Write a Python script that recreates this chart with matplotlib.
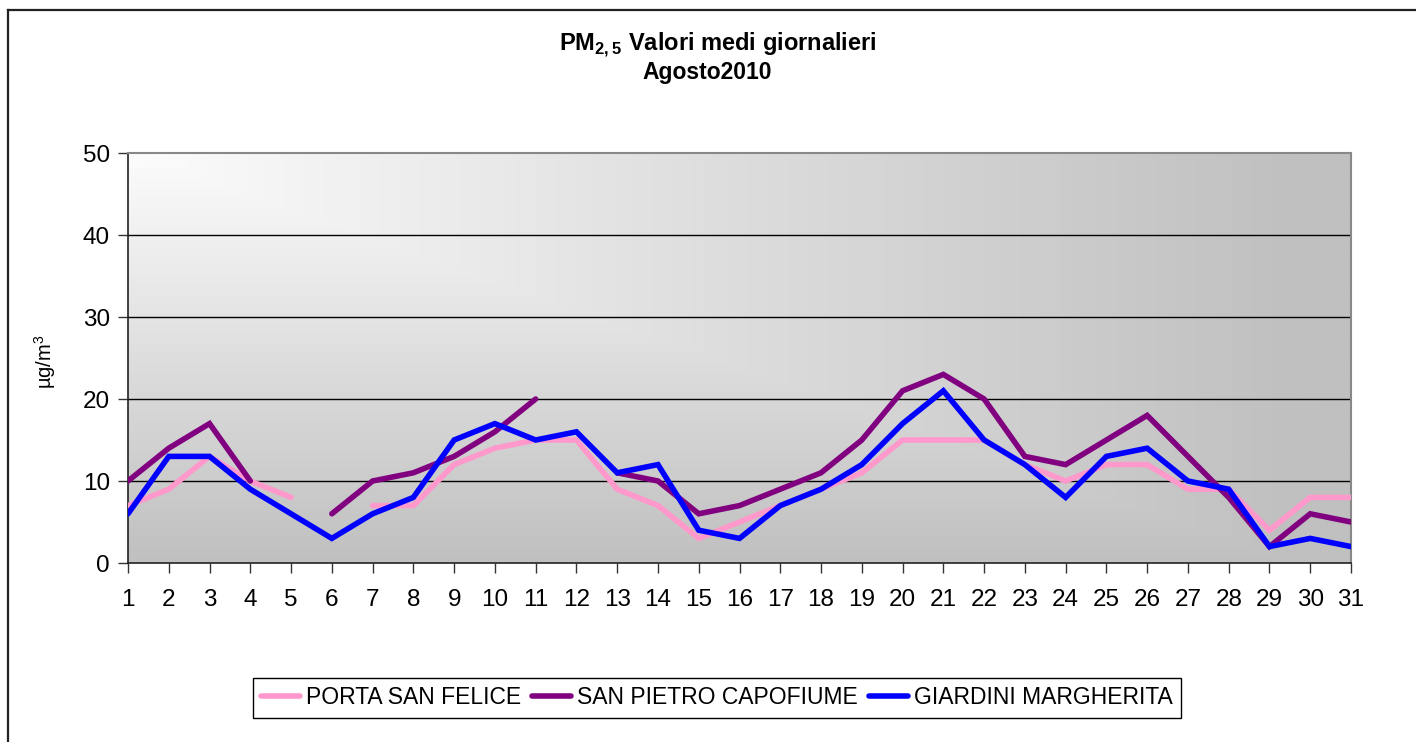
import numpy as np
import matplotlib
matplotlib.use("Agg")
import matplotlib.pyplot as plt
from matplotlib.lines import Line2D

plt.rcParams['font.family'] = ['Liberation Sans', 'DejaVu Sans']
plt.rcParams['mathtext.fontset'] = 'custom'
plt.rcParams['mathtext.rm'] = 'Liberation Sans'
plt.rcParams['mathtext.bf'] = 'Liberation Sans:bold'

nan = np.nan
days = list(range(1, 32))
series_names = ["PORTA SAN FELICE", "SAN PIETRO CAPOFIUME", "GIARDINI MARGHERITA"]
porta_san_felice = [7, 9, 13, 10, 8, nan, 7, 7, 12, 14, 15, 15, 9, 7, 3, 5, 7, 9, 11, 15,
                    15, 15, 12, 10, 12, 12, 9, 9, 4, 8, 8]
san_pietro = [10, 14, 17, 10, nan, 6, 10, 11, 13, 16, 20, nan, 11, 10, 6, 7, 9, 11, 15, 21,
              23, 20, 13, 12, 15, 18, 13, 8, 2, 6, 5]
giardini = [6, 13, 13, 9, 6, 3, 6, 8, 15, 17, 15, 16, 11, 12, 4, 3, 7, 9, 12, 17,
            21, 15, 12, 8, 13, 14, 10, 9, 2, 3, 2]
colors = ["#ff99cc", "#800080", "#0000ff"]
y_ticks = [0, 10, 20, 30, 40, 50]

W, H = 1416, 742
fig = plt.figure(figsize=(W / 100, H / 100), dpi=100)
fig.patch.set_facecolor('white')

# figure border (left and top visible)
fig.add_artist(Line2D([7.5 / W, 7.5 / W], [0, 1 - 9.5 / H], transform=fig.transFigure,
                      color='#222222', lw=1.6))
fig.add_artist(Line2D([7.5 / W, 1], [1 - 9.5 / H, 1 - 9.5 / H], transform=fig.transFigure,
                      color='#222222', lw=1.6))

left, right, top, bottom = 128, 1351, 153, 563
ax = fig.add_axes([left / W, 1 - bottom / H, (right - left) / W, (bottom - top) / H])

# gradient background
nx, ny = 400, 200
u = np.linspace(0, 1, nx)[None, :]
v = np.linspace(0, 1, ny)[:, None]
t = np.clip(np.maximum(u * 1.05, v * 1.0), 0, 1)
val = (252 - t * (252 - 192)) / 255.0
img = np.dstack([val, val, val])
ax.imshow(img, extent=[0, 1, 0, 1], transform=ax.transAxes, aspect='auto',
          zorder=0, interpolation='bilinear')

for y in y_ticks[1:-1]:
    ax.axhline(y, color='black', lw=1.0, zorder=1)

for vals, c, name in zip([porta_san_felice, san_pietro, giardini], colors, series_names):
    ax.plot(days, vals, color=c, lw=4.0, label=name, zorder=3,
            solid_capstyle='round', solid_joinstyle='miter')

ax.set_xlim(1, 31)
ax.set_ylim(0, 50)
ax.set_xticks(days)
ax.set_yticks(y_ticks)
ax.tick_params(axis='both', direction='out', length=7, width=1, color='#333333',
               labelsize=17.5, pad=6)
ax.tick_params(axis='x', pad=12)
for s in ['left', 'bottom']:
    ax.spines[s].set_color('#222222')
    ax.spines[s].set_linewidth(1.2)
for s in ['top', 'right']:
    ax.spines[s].set_color('#888888')
    ax.spines[s].set_linewidth(1.5)

fig.text(45 / W, 1 - 362 / H, "µg/m$^3$", rotation=90, ha='center', va='center', fontsize=14.5)

fig.text(718 / W, 1 - 45 / H, r"PM$_{\mathbf{2,5}}$ Valori medi giornalieri", ha='center',
         va='center', fontsize=17, fontweight='bold')
fig.text(707 / W, 1 - 72 / H, "Agosto2010", ha='center', va='center', fontsize=16.5,
         fontweight='bold')

leg = fig.legend(loc='center', bbox_to_anchor=(717 / W, 1 - 698 / H), ncol=3,
                 fancybox=False, edgecolor='black', framealpha=1, fontsize=16.5,
                 handlelength=1.7, handletextpad=0.25, columnspacing=0.5,
                 borderpad=0.35, borderaxespad=0)
leg.get_frame().set_linewidth(1.0)

fig.savefig("out.png", dpi=100)
